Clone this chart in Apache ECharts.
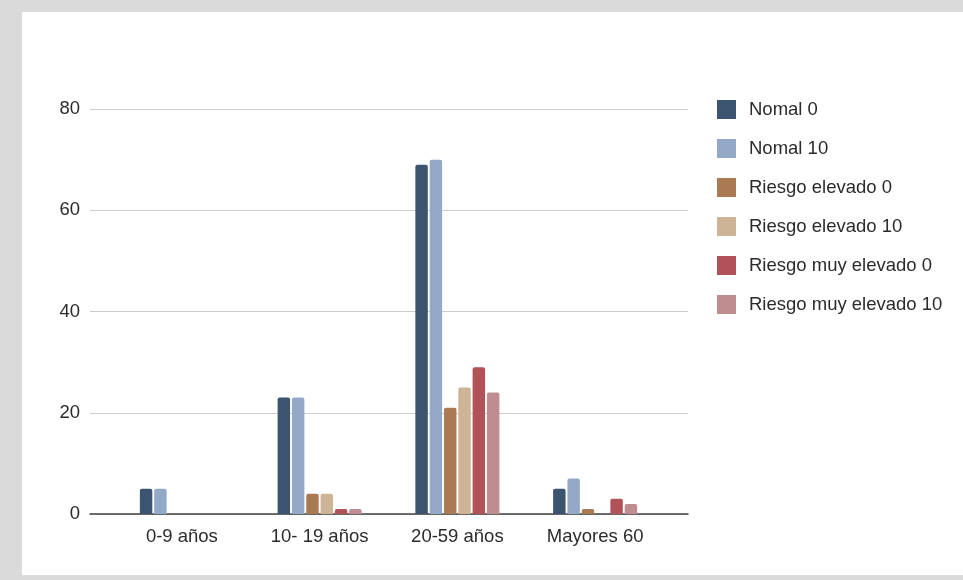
<!DOCTYPE html>
<html>
<head>
<meta charset="utf-8">
<script src="https://cdn.jsdelivr.net/npm/echarts@6/dist/echarts.min.js"></script>
<style>
html,body{margin:0;padding:0;background:#dadada;}
#bg{position:absolute;left:22px;top:12px;width:941px;height:563px;background:#fff;}
#chart{position:absolute;left:0;top:0;width:963px;height:580px;}
</style>
</head>
<body>
<div id="bg"></div>
<div id="chart"></div>
<script>
const categories = ['0-9 años', '10- 19 años', '20-59 años', 'Mayores 60'];
const seriesNames = ['Nomal 0', 'Nomal 10', 'Riesgo elevado 0', 'Riesgo elevado 10', 'Riesgo muy elevado 0', 'Riesgo muy elevado 10'];
const nomal0 = [5, 23, 69, 5];
const nomal10 = [5, 23, 70, 7];
const riesgoElevado0 = [0, 4, 21, 1];
const riesgoElevado10 = [0, 4, 25, 0];
const riesgoMuyElevado0 = [0, 1, 29, 3];
const riesgoMuyElevado10 = [0, 1, 24, 2];
const yTicks = [0, 20, 40, 60, 80];

const seriesData = [nomal0, nomal10, riesgoElevado0, riesgoElevado10, riesgoMuyElevado0, riesgoMuyElevado10];
const colors = ['#3c5470', '#94a9c7', '#aa7a52', '#ceb497', '#b05258', '#bf8d8f'];
const font = '"Liberation Sans", Arial, sans-serif';
const fs = 18.5;

const chart = echarts.init(document.getElementById('chart'));
chart.setOption({
  animation: false,
  color: colors,
  textStyle: {fontFamily: font},
  grid: [
    {left: 90, right: 275, top: 109, bottom: 66},
    {left: 113, right: 299, top: 109, bottom: 66}
  ],
  legend: {
    orient: 'vertical',
    left: 712,
    top: 95,
    itemWidth: 19,
    itemHeight: 19,
    itemGap: 20,
    icon: 'rect',
    textStyle: {fontSize: fs, color: '#2b2b2b', fontFamily: font, padding: [0, 0, 0, 8]},
    data: seriesNames
  },
  xAxis: [
    {gridIndex: 0, type: 'category', data: ['a'], axisLine: {show: true, lineStyle: {color: '#444', width: 1.5}}, axisTick: {show: false}, axisLabel: {show: false}},
    {gridIndex: 1, type: 'category', data: categories, axisLine: {show: false}, axisTick: {show: false},
     axisLabel: {fontSize: fs, color: '#2b2b2b', margin: 13, fontFamily: font}}
  ],
  yAxis: [
    {gridIndex: 0, type: 'value', min: yTicks[0], max: yTicks[yTicks.length - 1], interval: 20,
     axisLabel: {fontSize: fs, color: '#2b2b2b', margin: 10, fontFamily: font},
     axisLine: {show: false}, axisTick: {show: false},
     splitLine: {lineStyle: {color: '#cccccc', width: 1}}},
    {gridIndex: 1, type: 'value', min: 0, max: 80, interval: 20, show: false, splitLine: {show: false}}
  ],
  series: seriesNames.map((n, i) => ({
    name: n,
    type: 'bar',
    xAxisIndex: 1,
    yAxisIndex: 1,
    data: seriesData[i],
    barCategoryGap: '39%',
    barGap: '15%',
    itemStyle: {color: colors[i], borderRadius: [2, 2, 0, 0]}
  }))
});
</script>
</body>
</html>
